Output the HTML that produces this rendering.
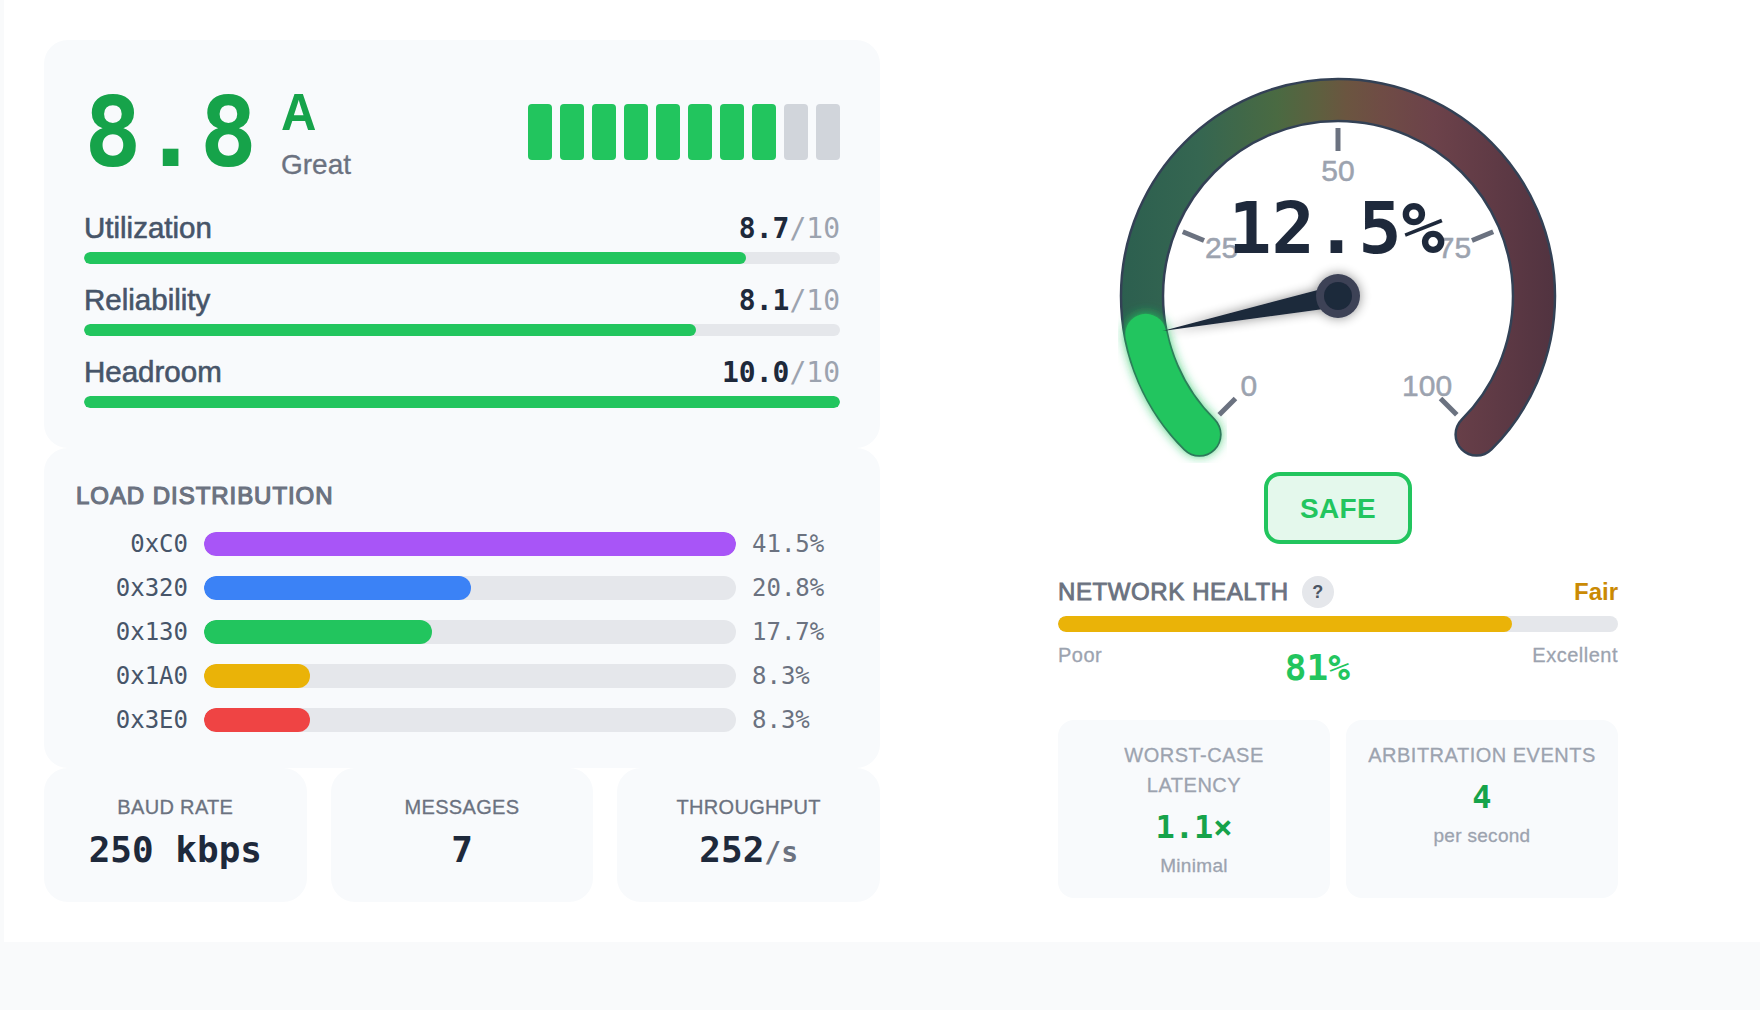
<!DOCTYPE html>
<html><head><meta charset="utf-8">
<style>
*{box-sizing:border-box;margin:0;padding:0}
html,body{width:1760px;height:1010px;overflow:hidden}
body{background:#f9fafb;font-family:"Liberation Sans",Arial,sans-serif;position:relative}
.page{position:absolute;left:4px;top:0;width:1756px;height:942px;background:#fff}
.mono{font-family:"DejaVu Sans Mono","Liberation Mono",monospace}
.card{position:absolute;background:#f8fafc;border-radius:24px}
#c1{left:44px;top:40px;width:836px;height:408px;padding:40px}
#c2{left:44px;top:448px;width:836px;height:320px;padding:32px}
.score{position:relative;height:96px;margin-bottom:32px}
.big{position:absolute;left:0;top:5px;font-size:96px;line-height:96px;font-weight:700;color:#16a34a;letter-spacing:0}
.grade{position:absolute;left:197px;top:7.3px;font-size:49px;line-height:49px;transform:scaleY(1.05);transform-origin:0 0;font-weight:700;color:#16a34a}
.gtext{position:absolute;left:197px;top:64.5px;font-size:28px;line-height:40px;color:#6b7280;-webkit-text-stroke:0.3px #6b7280}
.segs{position:absolute;right:0;top:24px;display:flex;gap:8px}
.segs i{display:block;width:24px;height:56px;border-radius:4px;background:#22c55e}
.segs i.off{background:#d1d5db}
.row{height:56px;margin-bottom:16px}
.row:last-child{margin-bottom:0}
.rl{display:flex;justify-content:space-between;align-items:baseline;height:40px;line-height:40px}
.rl .lab{font-size:29.5px;color:#475569;-webkit-text-stroke:0.6px #475569}
.rl .val{font-size:28px;font-weight:700;color:#1e293b}
.rl .val span{font-weight:400;color:#9ca3af}
.bar{height:12px;border-radius:6px;background:#e5e7eb;margin-top:4px;overflow:hidden}
.bar b{display:block;height:100%;border-radius:6px;background:#22c55e}
.ttl{font-size:24px;line-height:32px;font-weight:400;color:#6b7280;letter-spacing:0.95px;-webkit-text-stroke:1.2px #6b7280;margin-bottom:16px}
.dr{display:flex;align-items:center;height:32px;margin-bottom:12px}
.dr:last-child{margin-bottom:0}
.dr .k{width:112px;text-align:right;font-size:24px;color:#475569}
.dr .t{flex:1;margin:0 16px;height:24px;border-radius:12px;background:#e5e7eb;overflow:hidden}
.dr .t b{display:block;height:100%;border-radius:12px}
.dr .p{width:96px;font-size:24px;color:#6b7280}
.sc{top:768px;height:134px;padding-top:24px;text-align:center}
.sc .l{font-size:20px;line-height:30px;color:#6b7280;letter-spacing:0.33px;-webkit-text-stroke:0.3px #6b7280}
.sc .v{font-size:36px;line-height:56px;font-weight:700;color:#1e293b}
.sc .v span{font-size:28px;font-weight:700;color:#6b7280}
.rcol{position:absolute;left:1058px;top:0;width:560px;height:942px}
.safe{position:absolute;left:206px;top:472px;width:148px;height:72px;border:4px solid #22c55e;border-radius:16px;background:#e4f8ec;color:#22c55e;font-weight:700;font-size:28px;letter-spacing:0.3px;text-align:center;line-height:66px}
.nh{position:absolute;left:0;top:576px;width:560px;height:32px;display:flex;align-items:center}
.nht{font-size:24px;font-weight:400;color:#6b7280;letter-spacing:0.6px;-webkit-text-stroke:0.85px #6b7280}
.q{width:32px;height:32px;border-radius:50%;background:#e5e7eb;color:#4b5563;font-size:18px;font-weight:700;text-align:center;line-height:32px;margin-left:13px}
.fair{margin-left:auto;font-size:24px;font-weight:700;color:#ca8a04}
.nbar{position:absolute;left:0;top:616px;width:560px;height:16px;border-radius:8px;background:#e5e7eb;overflow:hidden}
.nbar b{display:block;width:81%;height:100%;border-radius:8px;background:#eab308}
.nl{position:absolute;left:0;top:640px;width:560px;display:flex;justify-content:space-between;align-items:flex-start}
.pe{font-size:20px;line-height:30px;color:#9ca3af;letter-spacing:0.5px;-webkit-text-stroke:0.3px #9ca3af}
.pct{font-size:36px;line-height:56px;font-weight:700;color:#22c55e}
.rc{position:absolute;top:720px;width:272px;height:178px;background:#f8fafc;border-radius:16px;padding:20px;text-align:center}
.rc .l{font-size:20px;line-height:30px;color:#9ca3af;letter-spacing:0.5px;white-space:nowrap;-webkit-text-stroke:0.3px #9ca3af}
.rc .v{font-size:32px;line-height:48px;font-weight:700;color:#16a34a;margin-top:3px}
.rc .s{font-size:19px;line-height:30px;color:#9ca3af;letter-spacing:0.3px;-webkit-text-stroke:0.3px #9ca3af}
</style></head><body>
<div class="page"></div>

<div class="card" id="c1">
  <div class="score">
    <div class="big mono">8.8</div>
    <div class="grade">A</div>
    <div class="gtext">Great</div>
    <div class="segs"><i></i><i></i><i></i><i></i><i></i><i></i><i></i><i></i><i class="off"></i><i class="off"></i></div>
  </div>
  <div class="row"><div class="rl"><span class="lab">Utilization</span><span class="val mono">8.7<span>/10</span></span></div><div class="bar"><b style="width:87.5%"></b></div></div>
  <div class="row"><div class="rl"><span class="lab">Reliability</span><span class="val mono">8.1<span>/10</span></span></div><div class="bar"><b style="width:81%"></b></div></div>
  <div class="row"><div class="rl"><span class="lab">Headroom</span><span class="val mono">10.0<span>/10</span></span></div><div class="bar"><b style="width:100%"></b></div></div>
</div>

<div class="card" id="c2">
  <div class="ttl">LOAD DISTRIBUTION</div>
  <div class="dr"><span class="k mono">0xC0</span><span class="t"><b style="width:100%;background:#a855f7"></b></span><span class="p mono">41.5%</span></div>
  <div class="dr"><span class="k mono">0x320</span><span class="t"><b style="width:50.1%;background:#3b82f6"></b></span><span class="p mono">20.8%</span></div>
  <div class="dr"><span class="k mono">0x130</span><span class="t"><b style="width:42.8%;background:#22c55e"></b></span><span class="p mono">17.7%</span></div>
  <div class="dr"><span class="k mono">0x1A0</span><span class="t"><b style="width:20%;background:#eab308"></b></span><span class="p mono">8.3%</span></div>
  <div class="dr"><span class="k mono">0x3E0</span><span class="t"><b style="width:20%;background:#ef4444"></b></span><span class="p mono">8.3%</span></div>
</div>

<div class="card sc" style="left:44px;width:262.67px"><div class="l">BAUD RATE</div><div class="v mono">250 kbps</div></div>
<div class="card sc" style="left:330.67px;width:262.67px"><div class="l">MESSAGES</div><div class="v mono">7</div></div>
<div class="card sc" style="left:617.33px;width:262.67px"><div class="l">THROUGHPUT</div><div class="v mono">252<span>/s</span></div></div>

<svg style="position:absolute;left:1058px;top:30px;overflow:hidden" width="560" height="433" viewBox="1058 30 560 433">
  <defs>
    <linearGradient id="tg" gradientUnits="userSpaceOnUse" x1="1120" y1="0" x2="1556" y2="0">
      <stop offset="0" stop-color="#2c5f4f"/>
      <stop offset="0.18" stop-color="#356651"/>
      <stop offset="0.36" stop-color="#4a6a42"/>
      <stop offset="0.46" stop-color="#5f5f3f"/>
      <stop offset="0.52" stop-color="#6b5540"/>
      <stop offset="0.60" stop-color="#6f4c45"/>
      <stop offset="0.72" stop-color="#6c424a"/>
      <stop offset="0.86" stop-color="#5f3a45"/>
      <stop offset="1" stop-color="#513340"/>
    </linearGradient>
    <filter id="glow" x="-50%" y="-50%" width="200%" height="200%"><feGaussianBlur in="SourceAlpha" stdDeviation="6" result="b"/><feFlood flood-color="#22c55e" flood-opacity="1"/><feComposite in2="b" operator="in"/><feComponentTransfer><feFuncA type="linear" slope="1.1"/></feComponentTransfer><feMerge><feMergeNode/><feMergeNode in="SourceGraphic"/></feMerge></filter>
    <filter id="sh" x="-50%" y="-50%" width="200%" height="200%"><feGaussianBlur in="SourceAlpha" stdDeviation="6"/><feOffset dx="0" dy="0"/><feComponentTransfer><feFuncA type="linear" slope="0.45"/></feComponentTransfer><feMerge><feMergeNode/><feMergeNode in="SourceGraphic"/></feMerge></filter>
  </defs>
  <path d="M1199.41 434.59A196 196 0 1 1 1476.59 434.59" fill="none" stroke="#334155" stroke-width="44.5" stroke-linecap="round"/>
  <path d="M1199.41 434.59A196 196 0 1 1 1476.59 434.59" fill="none" stroke="url(#tg)" stroke-width="39.5" stroke-linecap="round"/>
  <path d="M1199.41 434.59A196 196 0 0 1 1145.77 334.24" fill="none" stroke="#22c55e" stroke-width="41" stroke-linecap="round" filter="url(#glow)"/>
  <g stroke="#6b7280" stroke-width="5">
    <line x1="1235.47" y1="398.53" x2="1219.21" y2="414.79"/>
    <line x1="1204.04" y1="240.51" x2="1182.79" y2="231.71"/>
    <line x1="1338" y1="151" x2="1338" y2="128"/>
    <line x1="1471.96" y1="240.51" x2="1493.21" y2="231.71"/>
    <line x1="1440.53" y1="398.53" x2="1456.79" y2="414.79"/>
  </g>
  <g font-family="Liberation Sans, Arial, sans-serif" font-size="30" fill="#9ca3af" stroke="#9ca3af" stroke-width="0.5" text-anchor="middle" dominant-baseline="central">
    <text x="1248.9" y="385.1">0</text>
    <text x="1221.59" y="247.78">25</text>
    <text x="1338" y="170">50</text>
    <text x="1454.41" y="247.78">75</text>
    <text x="1427.1" y="385.1">100</text>
  </g>
  <text x="1336.5" y="253" font-family="DejaVu Sans Mono, monospace" font-weight="700" font-size="72" fill="#1e293b" text-anchor="middle">12.5%</text>
  <g filter="url(#sh)">
    <polygon points="1162.44,330.92 1340.15,306.79 1335.85,285.21" fill="#1e293b"/>
    <circle cx="1338" cy="296" r="22" fill="#3c4256"/>
    <circle cx="1338" cy="296" r="14" fill="#1e293b"/>
  </g>
</svg>


<div class="rcol">
  <div class="safe">SAFE</div>
  <div class="nh"><span class="nht">NETWORK HEALTH</span><span class="q">?</span><span class="fair">Fair</span></div>
  <div class="nbar"><b></b></div>
  <div class="nl"><span class="pe">Poor</span><span class="pct mono">81%</span><span class="pe">Excellent</span></div>
  <div class="rc" style="left:0"><div class="l">WORST-CASE<br>LATENCY</div><div class="v mono">1.1×</div><div class="s">Minimal</div></div>
  <div class="rc" style="left:288px"><div class="l">ARBITRATION EVENTS</div><div class="v mono">4</div><div class="s">per second</div></div>
</div>

</body></html>
